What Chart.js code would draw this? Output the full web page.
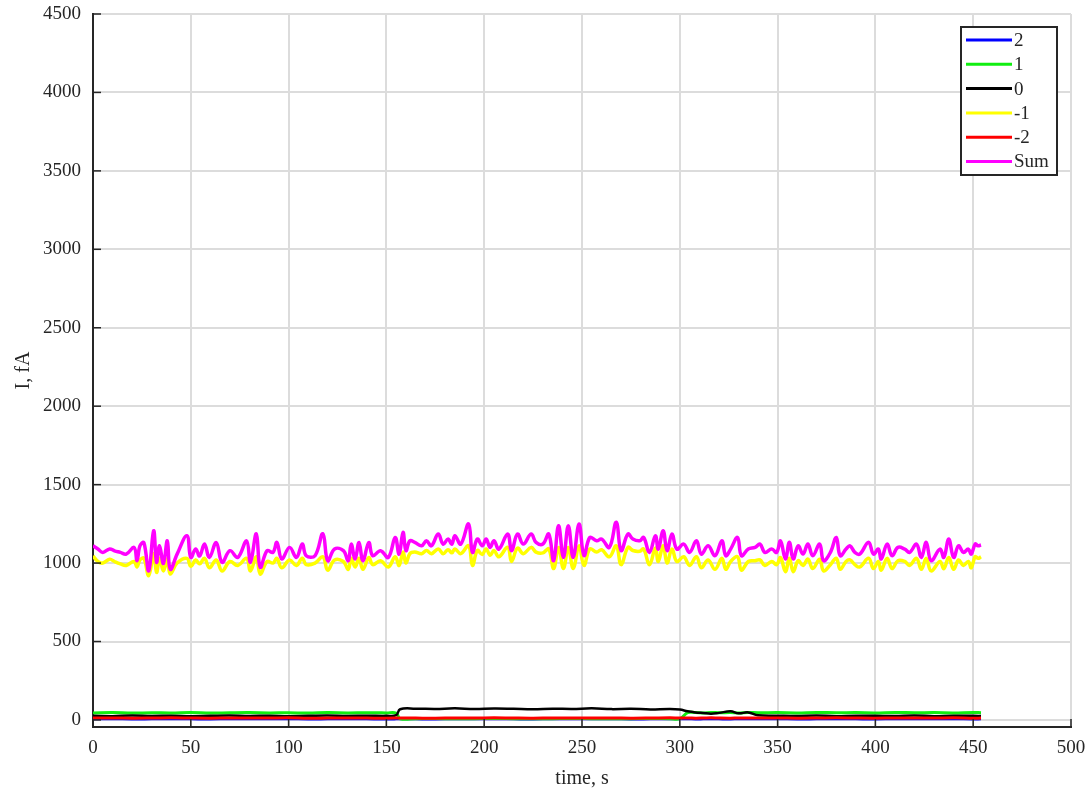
<!DOCTYPE html>
<html>
<head>
<meta charset="utf-8">
<script src="https://cdn.jsdelivr.net/npm/chart.js@4.4.0/dist/chart.umd.min.js"></script>
<style>
    html, body { margin: 0; padding: 0; background: #fff; }
    #wrap { width: 1089px; height: 791px; }
</style>
</head>
<body>
<div id="wrap"><canvas id="currentChart" width="1089" height="791"></canvas></div>
<script>
// Time stamps (s) of the noisy -1 / Sum traces
const waveTimes = [
    0, 2.5, 5, 8.5, 11, 14, 17, 21, 22.5, 24,
    26, 28.5, 31, 32.5, 34, 36, 38, 39.5, 43, 48,
    50, 52.5, 54.5, 57, 59.5, 63, 66, 70, 74, 78.5,
    80.5, 83.5, 85.5, 89, 92, 94, 96.5, 100.5, 104, 107,
    109, 113.5, 117.5, 120, 123.5, 128, 130.5, 132, 134, 136,
    138, 141, 143, 147, 151, 154.5, 156.5, 158.5, 160, 162,
    164.5, 168, 170.5, 173, 176.5, 179, 181.5, 183.5, 185, 188,
    192, 194, 196.5, 199, 201, 203, 205, 207.5, 212, 214,
    217, 220, 224, 226.5, 230, 233, 235.5, 238, 240.5, 243,
    245.5, 248.5, 251, 254, 257.5, 260, 264, 267.5, 270, 273.5,
    276, 279.5, 281.5, 284.5, 287.5, 289, 291.5, 293.5, 296, 298.5,
    302, 305, 308.5, 311, 314.5, 318, 321.5, 323.5, 326, 329.5,
    331.5, 335, 338.5, 341, 343.5, 347, 349.5, 351.5, 354, 356,
    358, 360.5, 363, 365.5, 368, 371.5, 373.5, 377, 380, 382,
    385, 387, 389.5, 392, 396.5, 399, 401.5, 403, 406, 408.5,
    411.5, 415, 417.5, 421, 423.5, 426, 428.5, 433, 435, 437.5,
    440, 442.5, 445, 447.5, 449, 451, 452.5, 454
];

const sumValues = [
    1110, 1090, 1068, 1090, 1078, 1068, 1057, 1100, 1015, 1110,
    1130, 950, 1206, 1005, 1110, 997, 1142, 960, 1057, 1174,
    1036, 1090, 1045, 1121, 1036, 1131, 1005, 1079, 1036, 1142,
    1005, 1187, 973, 1079, 1068, 1131, 1026, 1100, 1036, 1121,
    1047, 1047, 1187, 1015, 1090, 1079, 1015, 1121, 1026, 1131,
    1015, 1131, 1047, 1079, 1036, 1163, 1057, 1196, 1079, 1142,
    1132, 1110, 1142, 1110, 1185, 1121, 1153, 1121, 1174, 1121,
    1249, 1068, 1153, 1110, 1153, 1100, 1142, 1089, 1185, 1079,
    1185, 1121, 1185, 1132, 1121, 1185, 1015, 1238, 1036, 1238,
    1036, 1249, 1047, 1163, 1142, 1153, 1100, 1260, 1079, 1185,
    1153, 1142, 1163, 1068, 1174, 1089, 1206, 1079, 1185, 1089,
    1121, 1068, 1142, 1057, 1110, 1047, 1142, 1047, 1089, 1163,
    1047, 1089, 1100, 1121, 1068, 1089, 1068, 1142, 1026, 1132,
    1026, 1110, 1057, 1121, 1047, 1121, 1015, 1068, 1163, 1047,
    1089, 1110, 1068, 1057, 1132, 1057, 1089, 1026, 1121, 1047,
    1100, 1089, 1068, 1121, 1036, 1132, 1015, 1089, 1036, 1153,
    1036, 1110, 1068, 1089, 1057, 1121, 1110, 1115
];

const minusOneValues = [
    1045, 1010, 1000, 1025, 1010, 995, 985, 1010, 975, 1020,
    1030, 920, 1060, 940, 1030, 950, 1025, 930, 1000, 1030,
    980, 1020, 995, 1030, 970, 1020, 950, 1010, 985, 1030,
    950, 1040, 930, 1010, 1000, 1030, 970, 1020, 985, 1030,
    990, 1000, 1040, 955, 1020, 1010, 960, 1030, 975, 1030,
    960, 1035, 990, 1015, 975, 1040, 985, 1070, 1000, 1060,
    1070, 1060, 1080, 1060, 1090, 1060, 1085, 1065, 1090, 1060,
    1110, 985, 1080, 1055, 1090, 1050, 1080, 1040, 1100, 1010,
    1095, 1060, 1100, 1070, 1065, 1090, 965, 1100, 965, 1100,
    965, 1110, 985, 1090, 1070, 1085, 1040, 1110, 990, 1100,
    1080, 1075, 1090, 990, 1095, 1010, 1110, 1000, 1090, 1010,
    1040, 985, 1040, 970, 1020, 960, 1030, 960, 1010, 1040,
    955, 1010, 1015, 1020, 985, 1010, 990, 1035, 945, 1030,
    945, 1015, 985, 1025, 965, 1025, 950, 990, 1030, 960,
    1010, 1020, 990, 975, 1030, 965, 1010, 955, 1030, 965,
    1015, 1010, 985, 1030, 960, 1030, 950, 1010, 965, 1035,
    960, 1020, 985, 1010, 970, 1040, 1030, 1040
];

// Time stamps (s) of the low-level channels
const lowTimes = [
    0, 10, 20, 30, 40, 50, 60, 70, 80, 90, 100, 110, 120, 130, 140, 150,
    155, 157,
    165, 175, 185, 195, 205, 215, 225, 235, 245, 255, 265, 275, 285, 295,
    300, 304, 308, 312, 316, 320, 326, 330, 335, 340,
    350, 360, 370, 380, 390, 400, 410, 420, 430, 440, 450,
    454
];

const plusTwoValues = [
    7, 8, 6, 7, 8, 7, 6, 8, 7, 7, 8, 6, 7, 8, 7, 6,
    7, 8,
    7, 6, 8, 7, 8, 7, 6, 8, 7, 7, 8, 6, 7, 8,
    7, 8, 6, 7, 8, 7, 6, 8, 7, 7,
    8, 6, 7, 8, 7, 6, 8, 7, 7, 8, 6,
    7
];

const plusOneValues = [
    45, 47, 44, 46, 45, 48, 44, 46, 47, 45, 46, 44, 47, 45, 46, 45,
    44, 8,
    8, 9, 7, 8, 9, 8, 7, 8, 9, 8, 7, 8, 9, 8,
    8, 46, 47, 45, 48, 46, 47, 45, 48, 46,
    47, 45, 48, 46, 47, 45, 48, 46, 47, 45, 48,
    46
];

const zeroValues = [
    26, 24, 28, 25, 27, 24, 26, 28, 25, 27, 24, 26, 28, 25, 27, 26,
    30, 68,
    72, 70, 74, 69, 73, 71, 68, 72, 70, 74, 69, 71, 67, 70,
    66, 55, 48, 44, 40, 45, 55, 42, 48, 30,
    27, 25, 28, 24, 27, 26, 25, 28, 24, 27, 26,
    25
];

const minusTwoValues = [
    12, 13, 11, 12, 14, 12, 11, 13, 12, 12, 14, 11, 12, 13, 12, 11,
    12, 13,
    12, 11, 13, 12, 14, 12, 11, 13, 12, 12, 13, 11, 12, 14,
    12, 13, 11, 12, 14, 12, 11, 13, 12, 12,
    13, 11, 12, 14, 12, 11, 13, 12, 12, 14, 11,
    12
];

// Tick labels
const xTickValues = [0, 50, 100, 150, 200, 250, 300, 350, 400, 450, 500];
const yTickValues = [0, 500, 1000, 1500, 2000, 2500, 3000, 3500, 4000, 4500];
const yLimits = [-45, 4500];

const axisColor = '#262626';
const gridColor = '#dcdcdc';
const fontFamily = '"Liberation Serif", "Times New Roman", serif';

function toPoints(times, values) {
    return times.map((t, i) => ({ x: t, y: values[i] }));
}

function makeSeries(label, times, values, color, width, order) {
    return {
        label: label,
        data: toPoints(times, values),
        borderColor: color,
        backgroundColor: color,
        borderWidth: width,
        pointRadius: 0,
        tension: 0.4,
        fill: false,
        order: order
    };
}

function fixedTicks(values) {
    return function(scale) {
        scale.ticks = values.map(v => ({ value: v }));
    };
}

/**
 * Inward tick marks on the left and bottom axes
 */
const tickMarks = {
    id: 'tickMarks',
    afterDatasetsDraw(chart) {
        const ctx = chart.ctx;
        const area = chart.chartArea;
        ctx.save();
        ctx.strokeStyle = axisColor;
        ctx.lineWidth = 1.5;
        chart.scales.x.ticks.forEach(t => {
            const px = chart.scales.x.getPixelForValue(t.value);
            ctx.beginPath();
            ctx.moveTo(px, area.bottom);
            ctx.lineTo(px, area.bottom - 8);
            ctx.stroke();
        });
        chart.scales.y.ticks.forEach(t => {
            const py = chart.scales.y.getPixelForValue(t.value);
            ctx.beginPath();
            ctx.moveTo(area.left, py);
            ctx.lineTo(area.left + 8, py);
            ctx.stroke();
        });
        ctx.restore();
    }
};

/**
 * Boxed legend in the upper right corner, MATLAB style
 */
const legendOrder = ['2', '1', '0', '-1', '-2', 'Sum'];
const boxLegend = {
    id: 'boxLegend',
    afterDraw(chart) {
        const ctx = chart.ctx;
        const left = 961, top = 27, w = 96, h = 148, rowH = 24.3;
        ctx.save();
        ctx.fillStyle = '#fff';
        ctx.fillRect(left, top, w, h);
        ctx.strokeStyle = axisColor;
        ctx.lineWidth = 2;
        ctx.strokeRect(left, top, w, h);
        ctx.font = '19px ' + fontFamily;
        ctx.textBaseline = 'middle';
        ctx.textAlign = 'left';
        legendOrder.forEach((name, i) => {
            const ds = chart.data.datasets.find(d => d.label === name);
            const y = top + 13 + i * rowH;
            ctx.strokeStyle = ds.borderColor;
            ctx.lineWidth = 3;
            ctx.beginPath();
            ctx.moveTo(left + 5, y);
            ctx.lineTo(left + 51, y);
            ctx.stroke();
            ctx.fillStyle = axisColor;
            ctx.fillText(name, left + 53, y + 1);
        });
        ctx.restore();
    }
};

const canvas = document.getElementById('currentChart');
new Chart(canvas.getContext('2d'), {
    type: 'line',
    data: {
        datasets: [
            makeSeries('2', lowTimes, plusTwoValues, '#0000ff', 3, 6),
            makeSeries('1', lowTimes, plusOneValues, '#11ee11', 3, 5),
            makeSeries('0', lowTimes, zeroValues, '#000000', 2.5, 4),
            makeSeries('-1', waveTimes, minusOneValues, '#ffff00', 3.5, 3),
            makeSeries('-2', lowTimes, minusTwoValues, '#ff0000', 3, 2),
            makeSeries('Sum', waveTimes, sumValues, '#ff00ff', 3.5, 1)
        ]
    },
    options: {
        responsive: false,
        animation: false,
        devicePixelRatio: 1,
        layout: {
            padding: { left: 0, right: 18, top: 14, bottom: 0 }
        },
        plugins: {
            legend: { display: false },
            tooltip: { enabled: false }
        },
        scales: {
            x: {
                type: 'linear',
                min: xTickValues[0],
                max: xTickValues[xTickValues.length - 1],
                afterBuildTicks: fixedTicks(xTickValues),
                ticks: {
                    maxRotation: 0,
                    padding: 10,
                    color: axisColor,
                    font: { family: fontFamily, size: 19 },
                    callback: v => String(v)
                },
                grid: { color: gridColor, lineWidth: 2, drawTicks: false },
                border: { display: true, color: axisColor, width: 2 },
                title: {
                    display: true,
                    text: 'time, s',
                    color: axisColor,
                    font: { family: fontFamily, size: 20 },
                    padding: { top: 6, bottom: 0 }
                },
                afterFit: function(scale) {
                    scale.height = 64;
                    scale.paddingLeft = 0;
                    scale.paddingRight = 0;
                }
            },
            y: {
                type: 'linear',
                min: yLimits[0],
                max: yLimits[1],
                afterBuildTicks: fixedTicks(yTickValues),
                ticks: {
                    padding: 12,
                    color: axisColor,
                    font: { family: fontFamily, size: 19 },
                    callback: v => String(v)
                },
                grid: { color: gridColor, lineWidth: 2, drawTicks: false },
                border: { display: true, color: axisColor, width: 2 },
                title: {
                    display: true,
                    text: 'I, fA',
                    color: axisColor,
                    font: { family: fontFamily, size: 20 },
                    padding: { top: 12, bottom: 0 }
                },
                afterFit: function(scale) {
                    scale.width = 93;
                    scale.paddingTop = 0;
                    scale.paddingBottom = 0;
                }
            }
        }
    },
    plugins: [tickMarks, boxLegend]
});
</script>
</body>
</html>
